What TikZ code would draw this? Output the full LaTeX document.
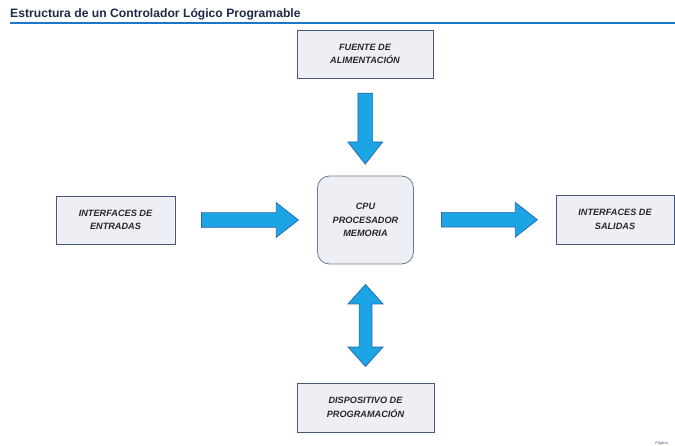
\documentclass[tikz,border=0pt]{standalone}
\usepackage{fontspec}
\setmainfont{Liberation Sans}
\usetikzlibrary{shapes.arrows,calc}

\definecolor{boxfill}{RGB}{238,238,245}
\definecolor{boxline}{RGB}{72,86,122}
\definecolor{arrowfill}{RGB}{28,164,228}
\definecolor{arrowline}{RGB}{36,104,176}
\definecolor{titlecol}{RGB}{30,42,72}
\definecolor{rulecol}{RGB}{28,118,200}
\definecolor{txtcol}{RGB}{40,40,44}

\begin{document}
\begin{tikzpicture}[x=1bp, y=-1bp,
    box/.style = {draw=boxline, fill=boxfill, line width=0.8bp, align=center,
        text=txtcol, font=\fontsize{9.2}{13.5}\selectfont\bfseries\itshape,
        minimum height=48bp, inner sep=0pt},
    flecha/.style = {single arrow, draw=arrowline, fill=arrowfill, line width=0.7bp,
        inner xsep=0pt, inner ysep=7bp, minimum width=33bp,
        single arrow head extend=10bp, single arrow tip angle=76},
    doble/.style = {double arrow, draw=arrowline, fill=arrowfill, line width=0.7bp,
        inner xsep=0pt, inner ysep=6bp, minimum width=35bp,
        double arrow head extend=11bp, double arrow tip angle=84}]
        \useasboundingbox (0,0) rectangle (675,446);
        % titulo
        \node[anchor=base west, inner sep=0pt, text=titlecol,
            font=\fontsize{12.2}{14}\selectfont\bfseries] (titulo) at (10,18)
            {Estructura de un Controlador Lógico Programable};
        \draw[rulecol, line width=2bp] (10,23) -- (675,23);
        % bloques
        \node[box, minimum width=136bp] (fuente) at (365,54) {FUENTE DE\\ALIMENTACIÓN};
        \node[box, minimum width=119bp] (entradas) at (115.5,220) {INTERFACES DE\\ENTRADAS};
        \node[box, minimum width=96bp, minimum height=88bp, rounded corners=12bp,
            draw=boxline!80] (cpu) at (365.5,220) {CPU\\PROCESADOR\\MEMORIA};
        \node[box, minimum width=118bp, minimum height=49bp] (salidas) at (615,219.5) {INTERFACES DE\\SALIDAS};
        \node[box, minimum width=137bp, minimum height=49bp] (prog) at (365.5,407.5) {DISPOSITIVO DE\\PROGRAMACIÓN};
        % flechas
        \node[flecha, minimum height=71bp, rotate=-90] (f1) at ($(fuente.south)!0.5!(cpu.north)+(0,-3)$) {};
        \node[flecha, minimum height=97bp] (f2) at ($(entradas.east)!0.5!(cpu.west)+(-1,0)$) {};
        \node[flecha, minimum height=96bp] (f3) at ($(cpu.east)!0.5!(salidas.west)$) {};
        \node[doble, minimum height=82bp, rotate=90] (f4) at ($(cpu.south)!0.5!(prog.north)+(0,2)$) {};
        % pie
        \node[anchor=base east, inner sep=0pt, text=boxline,
            font=\fontsize{4}{5}\selectfont] (pagina) at (668,444) {Página};
    \end{tikzpicture}
\end{document}
